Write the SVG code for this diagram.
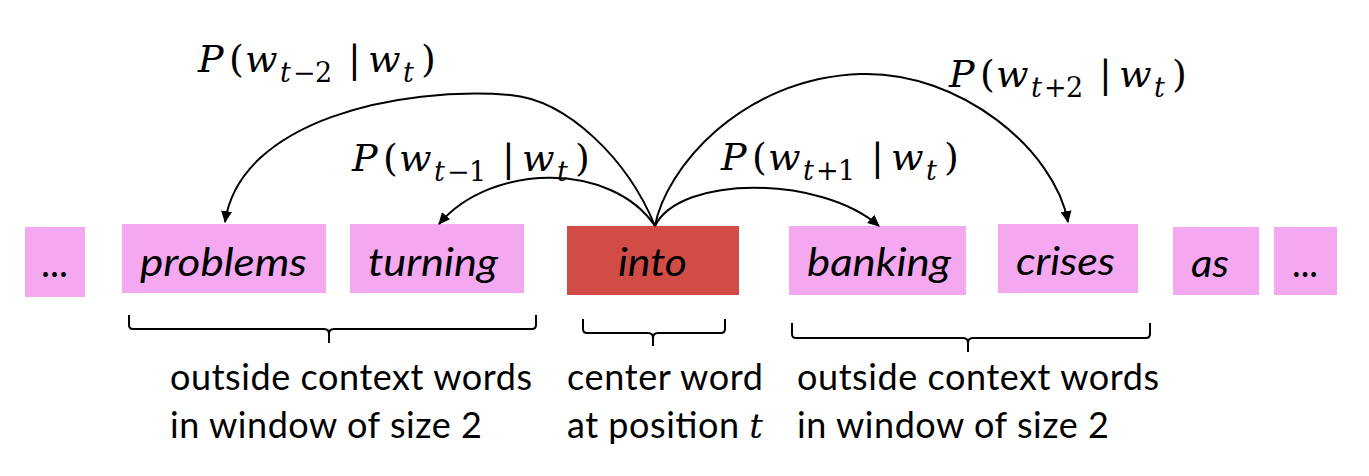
<svg xmlns="http://www.w3.org/2000/svg" width="1369" height="476" viewBox="0 0 1369 476">
<style>
.box{fill:#F3A8EF}
.center{fill:#D14B47}
.word{font-family:Lato,"Open Sans","Liberation Sans",sans-serif;font-style:italic;font-size:39px;fill:#000}
.dots{font-family:Lato,"Liberation Sans",sans-serif;font-size:40px;fill:#000}
.cap{font-family:Lato,"Open Sans","Liberation Sans",sans-serif;font-size:36px;fill:#000}
.m{font-family:"DejaVu Serif","Liberation Serif",serif;font-size:38px;fill:#000}
.i{font-style:italic}
.s{font-size:27px}
.arc{fill:none;stroke:#000;stroke-width:2}
.brace{fill:none;stroke:#000;stroke-width:2}
</style>
<defs>
<marker id="ah" viewBox="0 0 12 11" refX="11" refY="5.5" markerWidth="12" markerHeight="11" markerUnits="userSpaceOnUse" orient="auto">
<path d="M0,0 L12,5.5 L0,11 z" fill="#000"/>
</marker>
</defs>

<g id="node-dots-left"><rect class="box" x="25" y="227" width="60" height="70"/><text class="dots" x="41" y="277" textLength="27" lengthAdjust="spacingAndGlyphs">...</text></g>
<g id="node-problems"><rect class="box" x="122" y="224" width="204" height="69"/><text class="word" x="140" y="276" textLength="167" lengthAdjust="spacingAndGlyphs">problems</text></g>
<g id="node-turning"><rect class="box" x="350" y="224" width="174" height="69"/><text class="word" x="368" y="276" textLength="130" lengthAdjust="spacingAndGlyphs">turning</text></g>
<g id="node-into"><rect class="center" x="567" y="226" width="172" height="69"/><text class="word" x="618" y="276" textLength="69" lengthAdjust="spacingAndGlyphs">into</text></g>
<g id="node-banking"><rect class="box" x="789" y="226" width="177" height="69"/><text class="word" x="807" y="276" textLength="144" lengthAdjust="spacingAndGlyphs">banking</text></g>
<g id="node-crises"><rect class="box" x="998" y="224" width="140" height="69"/><text class="word" x="1016" y="275" textLength="99" lengthAdjust="spacingAndGlyphs">crises</text></g>
<g id="node-as"><rect class="box" x="1173" y="227" width="86" height="68"/><text class="word" x="1191" y="277" textLength="38" lengthAdjust="spacingAndGlyphs">as</text></g>
<g id="node-dots-right"><rect class="box" x="1274" y="227" width="63" height="68"/><text class="dots" x="1292" y="277" textLength="26" lengthAdjust="spacingAndGlyphs">...</text></g>

<g id="connectors">
<path class="arc" marker-end="url(#ah)" d="M655,226 C628,160 568,100 510,95 C400,86 240,120 225,222"/>
<path class="arc" marker-end="url(#ah)" d="M655,226 C612,162 492,162 439,224"/>
<path class="arc" marker-end="url(#ah)" d="M655,226 C680,175 820,175 879,226"/>
<path class="arc" marker-end="url(#ah)" d="M655,226 C665,170 740,78 861,74 C960,71 1055,150 1068,222"/>
</g>

<g id="label-tm2">
<text class="m"><tspan class="i" x="198" y="72">P</tspan><tspan x="229" y="72">(</tspan><tspan class="i" x="245" y="72">w</tspan><tspan class="i s" x="280" y="82">t</tspan><tspan class="s" x="293" y="82">−</tspan><tspan class="s" x="315" y="82">2</tspan><tspan x="348" y="72">|</tspan><tspan class="i" x="368" y="72">w</tspan><tspan class="i s" x="403" y="82">t</tspan><tspan x="421" y="72">)</tspan></text>
</g>
<g id="label-tm1">
<text class="m"><tspan class="i" x="352" y="171">P</tspan><tspan x="383" y="171">(</tspan><tspan class="i" x="399" y="171">w</tspan><tspan class="i s" x="434" y="181">t</tspan><tspan class="s" x="447" y="181">−</tspan><tspan class="s" x="469" y="181">1</tspan><tspan x="502" y="171">|</tspan><tspan class="i" x="522" y="171">w</tspan><tspan class="i s" x="557" y="181">t</tspan><tspan x="575" y="171">)</tspan></text>
</g>
<g id="label-tp1">
<text class="m"><tspan class="i" x="721" y="170">P</tspan><tspan x="752" y="170">(</tspan><tspan class="i" x="768" y="170">w</tspan><tspan class="i s" x="803" y="180">t</tspan><tspan class="s" x="816" y="180">+</tspan><tspan class="s" x="838" y="180">1</tspan><tspan x="871" y="170">|</tspan><tspan class="i" x="891" y="170">w</tspan><tspan class="i s" x="926" y="180">t</tspan><tspan x="944" y="170">)</tspan></text>
</g>
<g id="label-tp2">
<text class="m"><tspan class="i" x="949" y="87">P</tspan><tspan x="980" y="87">(</tspan><tspan class="i" x="996" y="87">w</tspan><tspan class="i s" x="1031" y="97">t</tspan><tspan class="s" x="1044" y="97">+</tspan><tspan class="s" x="1066" y="97">2</tspan><tspan x="1099" y="87">|</tspan><tspan class="i" x="1119" y="87">w</tspan><tspan class="i s" x="1154" y="97">t</tspan><tspan x="1172" y="87">)</tspan></text>
</g>

<g id="braces">
<path class="brace" d="M129,315 L129,325 Q129,329 133,329 L324,329 Q329,329 329,334 Q329,329 334,329 L532,329 Q536,329 536,325 L536,315 M329,333 L329,343"/>
<path class="brace" d="M583,319 L583,329 Q583,333 587,333 L648,333 Q653,333 653,338 Q653,333 658,333 L721,333 Q725,333 725,329 L725,319 M653,337 L653,346"/>
<path class="brace" d="M792,323 L792,334 Q792,338 796,338 L963,338 Q968,338 968,343 Q968,338 973,338 L1146,338 Q1150,338 1150,334 L1150,323 M968,342 L968,352"/>
</g>

<g id="captions">
<text class="cap" x="170" y="390" textLength="362" lengthAdjust="spacing">outside context words</text>
<text class="cap" x="170" y="438" textLength="312" lengthAdjust="spacing">in window of size 2</text>
<text class="cap" x="567" y="390" textLength="196" lengthAdjust="spacing">center word</text>
<text class="cap" x="567" y="438" textLength="196" lengthAdjust="spacing">at position <tspan font-family="DejaVu Serif" font-style="italic" font-size="34">t</tspan></text>
<text class="cap" x="797" y="390" textLength="362" lengthAdjust="spacing">outside context words</text>
<text class="cap" x="797" y="438" textLength="312" lengthAdjust="spacing">in window of size 2</text>
</g>
</svg>
